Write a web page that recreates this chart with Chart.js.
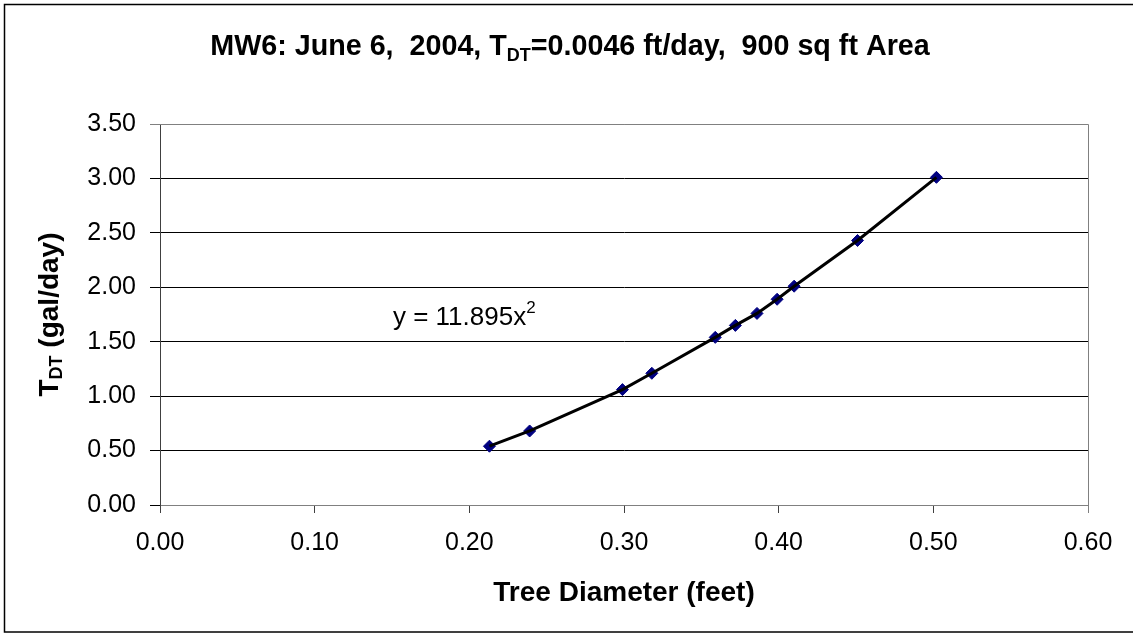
<!DOCTYPE html>
<html>
<head>
<meta charset="utf-8">
<script src="https://cdn.jsdelivr.net/npm/chart.js@4.4.1/dist/chart.umd.min.js"></script>
<style>
  html, body { margin: 0; padding: 0; background: #fff; }
  canvas { display: block; }
</style>
</head>
<body>
<canvas id="chart" width="1133" height="635"></canvas>
<script>
// values
const diameterFt = [0.213, 0.239, 0.299, 0.318, 0.359, 0.372, 0.386, 0.399, 0.410, 0.451, 0.502];
const tdtGalDay = [0.54, 0.68, 1.06, 1.21, 1.54, 1.65, 1.76, 1.89, 2.01, 2.43, 3.01];
const xTicks = ['0.00', '0.10', '0.20', '0.30', '0.40', '0.50', '0.60'];
const yTicks = ['0.00', '0.50', '1.00', '1.50', '2.00', '2.50', '3.00', '3.50'];
const equationText = 'y = 11.895x';
const equationPos = [0.1506, 1.65]; // data coords of label baseline start

const FONT = '"Liberation Sans", Arial, sans-serif';

const points = diameterFt.map((d, i) => ({ x: d, y: tdtGalDay[i] }));

// draw pieces of text with sub/superscripts
function drawRuns(ctx, runs, x, y) {
  let cx = x;
  runs.forEach(r => {
    ctx.font = r.font;
    ctx.fillText(r.text, cx, y + (r.dy || 0));
    cx += ctx.measureText(r.text).width;
  });
}
function runsWidth(ctx, runs) {
  let w = 0;
  runs.forEach(r => { ctx.font = r.font; w += ctx.measureText(r.text).width; });
  return w;
}

const extras = {
  id: 'extras',
  beforeDraw(chart) {
    const ctx = chart.ctx;
    ctx.save();
    ctx.fillStyle = '#fff';
    ctx.fillRect(0, 0, chart.width, chart.height);
    ctx.restore();
  },
  afterDraw(chart) {
    const ctx = chart.ctx;
    const a = chart.chartArea;
    const sx = chart.scales.x, sy = chart.scales.y;
    ctx.save();
    ctx.fillStyle = '#000';
    ctx.textBaseline = 'alphabetic';
    ctx.textAlign = 'left';

    // outer frame (right side runs off the picture)
    ctx.strokeStyle = '#000';
    ctx.lineWidth = 1.5;
    ctx.strokeRect(4.5, 4.5, chart.width + 10, 627.5);

    // plot frame top / right in grey
    ctx.strokeStyle = '#808080';
    ctx.lineWidth = 1;
    ctx.beginPath();
    ctx.moveTo(a.left, a.top + 0.5);
    ctx.lineTo(a.right + 0.5, a.top + 0.5);
    ctx.lineTo(a.right + 0.5, a.bottom);
    ctx.stroke();
    ctx.beginPath();
    ctx.moveTo(a.right + 0.5, a.bottom);
    ctx.lineTo(a.right + 0.5, a.bottom + 8);
    ctx.stroke();

    // title
    const tb = 'bold 28.7px ' + FONT, ts = 'bold 18px ' + FONT;
    const title = [
      { text: 'MW6: June 6,  2004, T', font: tb },
      { text: 'DT', font: ts, dy: 6 },
      { text: '=0.0046 ft/day,  900 sq ft Area', font: tb }
    ];
    const tw = runsWidth(ctx, title);
    drawRuns(ctx, title, 570 - tw / 2, 55);

    // x axis title
    ctx.font = 'bold 28px ' + FONT;
    ctx.textAlign = 'center';
    ctx.fillText('Tree Diameter (feet)', (a.left + a.right) / 2, 601);
    ctx.textAlign = 'left';

    // y axis title (rotated, subscript)
    const yt = [
      { text: 'T', font: 'bold 28px ' + FONT },
      { text: 'DT', font: 'bold 18px ' + FONT, dy: 4 },
      { text: ' (gal/day)', font: 'bold 28px ' + FONT }
    ];
    const yw = runsWidth(ctx, yt);
    ctx.save();
    ctx.translate(58, (a.top + a.bottom) / 2);
    ctx.rotate(-Math.PI / 2);
    drawRuns(ctx, yt, -yw / 2, 0);
    ctx.restore();

    // trendline equation
    const ex = sx.getPixelForValue(equationPos[0]);
    const ey = sy.getPixelForValue(equationPos[1]);
    drawRuns(ctx, [
      { text: equationText, font: '26px ' + FONT },
      { text: '2', font: '17px ' + FONT, dy: -12 }
    ], ex, ey);

    ctx.restore();
  }
};

new Chart(document.getElementById('chart'), {
  type: 'scatter',
  data: {
    datasets: [
      {
        label: 'trend',
        data: points,
        showLine: true,
        borderColor: '#000',
        borderWidth: 3,
        pointRadius: 0,
        fill: false,
        order: 0
      },
      {
        label: 'MW6',
        data: points,
        pointStyle: 'rectRot',
        pointRadius: 6,
        backgroundColor: '#000080',
        borderColor: '#000080',
        borderWidth: 1,
        order: 1
      }
    ]
  },
  options: {
    responsive: false,
    animation: false,
    devicePixelRatio: 1,
    layout: { padding: { top: 124, right: 45, left: 0, bottom: 0 } },
    plugins: {
      legend: { display: false },
      title: { display: false },
      tooltip: { enabled: false }
    },
    scales: {
      x: {
        type: 'linear',
        min: 0,
        max: 0.6,
        afterFit: s => { s.height = 130; },
        afterBuildTicks: s => { s.ticks = xTicks.map(t => ({ value: parseFloat(t) })); },
        ticks: {
          callback: v => v.toFixed(2),
          font: { family: FONT, size: 25 },
          color: '#000',
          padding: 15,
          maxRotation: 0
        },
        grid: {
          drawOnChartArea: false,
          drawTicks: true,
          tickLength: 8,
          color: '#404040'
        },
        border: { color: '#808080', width: 1 }
      },
      y: {
        min: 0,
        max: 3.5,
        afterFit: s => { s.width = 160; },
        afterBuildTicks: s => { s.ticks = yTicks.map(t => ({ value: parseFloat(t) })); },
        ticks: {
          callback: v => v.toFixed(2),
          font: { family: FONT, size: 25 },
          color: '#000',
          padding: 14
        },
        grid: {
          drawTicks: true,
          tickLength: 10,
          color: ctx => (ctx.tick && ctx.tick.value === 3.5) ? '#808080' : '#000'
        },
        border: { color: '#404040', width: 1 }
      }
    }
  },
  plugins: [extras]
});
</script>
</body>
</html>
